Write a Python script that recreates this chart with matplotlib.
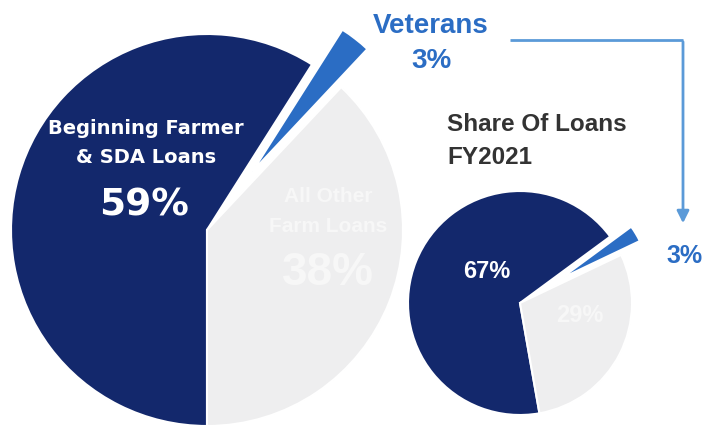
import matplotlib.pyplot as plt

W, H = 704, 430

# data
categories = ['Beginning Farmer\n& SDA Loans', 'Veterans', 'All Other\nFarm Loans']
share_all = [59, 3, 38]       # big pie
share_fy2021 = [67, 3, 29]    # small pie, FY2021
title = ['Share Of Loans', 'FY2021']

navy = '#13286c'
blue = '#2b6dc4'
grey = '#eeeeef'
faint = '#f7f7f7'   # white-ish text on the grey wedge
arrow_blue = '#5b9ad8'


def iy(y):
    # image pixel row -> data y (y axis points up)
    return H - y


fig = plt.figure(figsize=(7.04, 4.30), dpi=100)
ax = fig.add_axes([0, 0, 1, 1])

### big pie
wedges, _ = ax.pie(share_all, colors=[navy, blue, grey], startangle=270, counterclock=False,
                   radius=196, center=(207, iy(230)), explode=[0, 74, 0],
                   wedgeprops=dict(edgecolor='white', linewidth=1.5))
wedges[1].set_radius(168)

### small pie
wedges2, _ = ax.pie(share_fy2021, colors=[navy, blue, grey], startangle=280, counterclock=False,
                    radius=112, center=(520, iy(303)), explode=[0, 47, 0],
                    wedgeprops=dict(edgecolor='white', linewidth=1.5))
wedges2[1].set_radius(88)

ax.set_xlim(0, W)
ax.set_ylim(0, H)
ax.set_aspect('equal')
ax.axis('off')

# labels, big pie
lines = categories[0].split('\n')
ax.text(146, iy(134), lines[0], color='white', fontsize=14, fontweight='bold',
        family='DejaVu Sans', ha='center', va='baseline')
ax.text(146, iy(163), lines[1], color='white', fontsize=14, fontweight='bold',
        family='DejaVu Sans', ha='center', va='baseline')
ax.text(144, iy(215), f'{share_all[0]}%', color='white', fontsize=27, fontweight='bold',
        family='DejaVu Sans', ha='center', va='baseline')

lines = categories[2].split('\n')
ax.text(328, iy(202), lines[0], color=faint, fontsize=15, fontweight='bold',
        family='Liberation Sans', ha='center', va='baseline')
ax.text(328, iy(232), lines[1], color=faint, fontsize=15, fontweight='bold',
        family='Liberation Sans', ha='center', va='baseline')
ax.text(328, iy(285), f'{share_all[2]}%', color=faint, fontsize=33, fontweight='bold',
        family='Liberation Sans', ha='center', va='baseline')

ax.text(431, iy(33), categories[1], color=blue, fontsize=20, fontweight='bold',
        family='Liberation Sans', ha='center', va='baseline')
ax.text(431, iy(68), f'{share_all[1]}%', color=blue, fontsize=20, fontweight='bold',
        family='Liberation Sans', ha='center', va='baseline')

# labels, small pie
ax.text(487, iy(278), f'{share_fy2021[0]}%', color='white', fontsize=17, fontweight='bold',
        family='Liberation Sans', ha='center', va='baseline')
ax.text(580, iy(322), f'{share_fy2021[2]}%', color=faint, fontsize=17, fontweight='bold',
        family='Liberation Sans', ha='center', va='baseline')
ax.text(685, iy(263), f'{share_fy2021[1]}%', color=blue, fontsize=18, fontweight='bold',
        family='Liberation Sans', ha='center', va='baseline')

# title
ax.text(447, iy(131), title[0], color='#333333', fontsize=17.5, fontweight='bold',
        family='Liberation Sans', ha='left', va='baseline')
ax.text(447, iy(164), title[1], color='#333333', fontsize=17.5, fontweight='bold',
        family='Liberation Sans', ha='left', va='baseline')

# connector arrow Veterans -> small pie
ax.plot([510, 683], [iy(40), iy(40)], color=arrow_blue, lw=2, solid_capstyle='butt')
ax.annotate('', xy=(683, iy(226)), xytext=(683, iy(39)),
            arrowprops=dict(arrowstyle='-|>', color=arrow_blue, lw=2, mutation_scale=18))

fig.savefig('out.png', dpi=100)
